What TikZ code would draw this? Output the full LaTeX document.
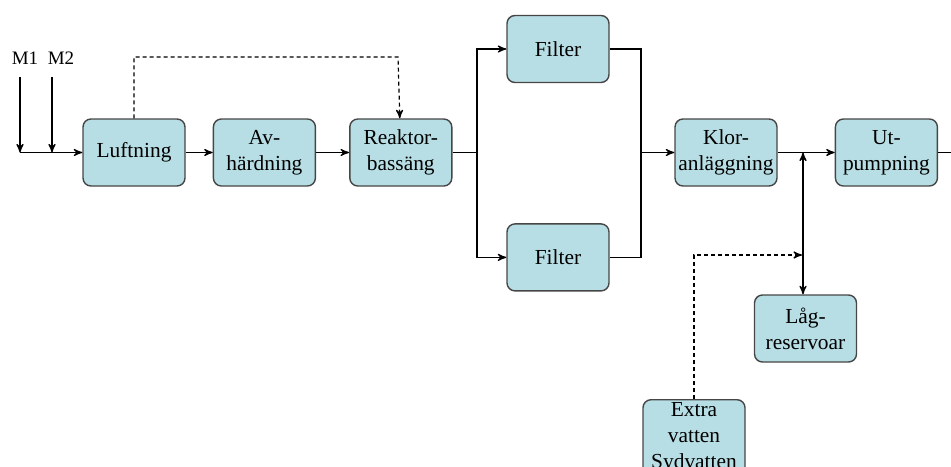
\documentclass[tikz,border=0pt]{standalone}
\usepackage{fontspec}
\setmainfont{Liberation Serif}
\usetikzlibrary{arrows,positioning}
\definecolor{lb}{RGB}{183,222,228}
\definecolor{rim}{RGB}{70,70,70}
\tikzstyle{stage} = [rectangle, rounded corners=4pt, draw=rim, line width=0.7pt,
  fill=lb, minimum width=51pt, minimum height=33.5pt, inner sep=1.2pt,
  align=center, font=\fontsize{10.7}{13}\selectfont]
\tikzstyle{pipe} = [line width=0.6pt]
\tikzstyle{flow} = [pipe, ->]
\tikzstyle{back} = [pipe, dash pattern=on 2pt off 1.5pt, ->]
\tikzstyle{inflow} = [font=\fontsize{9.5}{11}\selectfont]

\begin{document}
\begin{tikzpicture}[x=0.5pt, y=-0.5pt, >=stealth']
    \useasboundingbox (0,0) rectangle (951,466);
    \clip (0,0) rectangle (951,466);

    \node[stage] (luft) at (134,152.5) {Luftning};
    \node[stage, right = 13.5pt of luft] (avh) {Av-\\härdning};
    \node[stage, right = 16.5pt of avh] (reak) {Reaktor-\\bassäng};

    \node[stage] (filt1) at (558,49) {Filter};
    \node[stage, below = 70pt of filt1] (filt2) {Filter};

    \node[stage] (klor) at (726,152.5) {Klor-\\anläggning};
    \node[stage, right = 28.5pt of klor] (ut) {Ut-\\pumpning};
    \node[stage] (lag) at (805.5,328.5) {Låg-\\reservoar};
    \node[stage, anchor=north] (xtra) at (694,399) {Extra\\vatten\\Sydvatten};

    \node[inflow] (m1) at (25,58) {M1};
    \node[inflow] (m2) at (61,58) {M2};

    \coordinate (m1j) at (20,152.5);
    \coordinate (m2j) at (52,152.5);
    \coordinate (split) at (477,152.5);
    \coordinate (join) at (641,152.5);
    \coordinate (tap) at (803,152.5);
    \coordinate (exit) at (951,152.5);
    \coordinate (over) at (398,57);
    \coordinate (inlet) at (802,255);

    \draw[flow, shorten <=3pt] (m1.south -| m1j) -- (m1j);
    \draw[flow, shorten <=3pt] (m2.south -| m2j) -- (m2j);
    \draw[flow] (m1j) -- (luft);
    \draw[flow] (luft) -- (avh);
    \draw[flow] (avh) -- (reak);

    \draw[pipe] (reak) -- (split);
    \draw[flow] (split) |- (filt1);
    \draw[flow] (split) |- (filt2);
    \draw[pipe] (filt1) -| (join);
    \draw[pipe] (filt2) -| (join);
    \draw[flow] (join) -- (klor);

    \draw[flow] (klor) -- (ut);
    \draw[pipe] (ut) -- (exit);
    \draw[pipe, <->] (tap) -- (tap |- lag.north);

    \draw[back] (luft) |- (over) -- (reak);
    \draw[back] (xtra) |- (inlet);
\end{tikzpicture}
\end{document}
